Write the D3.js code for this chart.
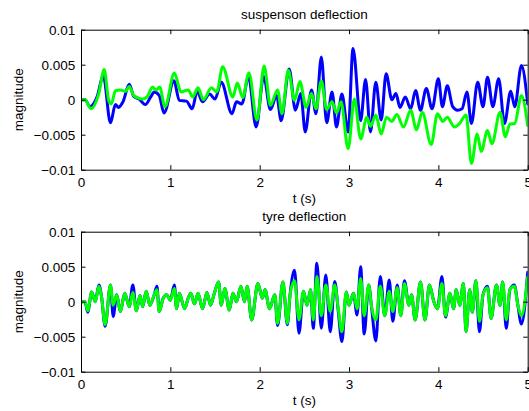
<!DOCTYPE html>
<html>
<head>
<meta charset="utf-8">
<script src="https://cdn.jsdelivr.net/npm/d3@7"></script>
<style>
  body { margin: 0; background: #fff; }
  svg text { font-family: "Liberation Sans", Arial, Helvetica, sans-serif; }
</style>
</head>
<body>
<svg id="chart" width="529" height="411"></svg>
<script>
// ---- axis ticks ----
const xTicks = [0, 1, 2, 3, 4, 5];
const yTicks = [-0.01, -0.005, 0, 0.005, 0.01];
const yTickLabels = ["\u22120.01", "\u22120.005", "0", "0.005", "0.01"];
const panelTitles = ["suspenson deflection", "tyre deflection"];
const xLabel = "t (s)";
const yLabel = "magnitude";

// ---- suspension deflection (values in units of 1e-3) ----
const suspBlueT = [0, 0.045, 0.1, 0.18, 0.25, 0.33, 0.385, 0.42, 0.47, 0.54, 0.59, 0.65, 0.72, 0.78, 0.82, 0.875, 0.93,
  1.04, 1.1, 1.18, 1.245, 1.3, 1.36, 1.44, 1.5, 1.57, 1.69, 1.74, 1.8, 1.875, 1.96, 2.045, 2.12, 2.19, 2.24, 2.33, 2.4,
  2.46, 2.51, 2.58, 2.63, 2.69, 2.75, 2.81, 2.86, 2.92, 2.99, 3.045, 3.13, 3.185, 3.24, 3.3, 3.36, 3.415, 3.48, 3.525,
  3.57, 3.63, 3.69, 3.745, 3.8, 3.865, 3.93, 4.0, 4.045, 4.1, 4.16, 4.215, 4.265, 4.32, 4.37, 4.44, 4.5, 4.55, 4.61,
  4.675, 4.74, 4.81, 4.855, 4.93, 5.0];
const suspBlueV = [0, 0, -1.0, 0.4, 3.4, -3.3, -0.7, -1.1, -0.3, 2.2, 0.5, 0.1, -0.7, 0.4, 1.1, 0.6, -1.9,
  2.7, -0.1, -0.2, -1.3, 1.2, -0.3, 0.8, 0.1, 2.5, -2.0, -0.3, -0.6, 3.3, -3.9, 3.3, -1.4, 0.6, -3.0, 4.4, -1.5,
  0.9, -4.6, 1.4, -2.0, 6.1, -3.3, 1.1, -3.9, 0.8, -4.6, 7.3, -3.0, 2.9, -4.6, 2.5, -2.9, 3.7, 0, 0.9,
  -1.1, 0.4, -1.3, 1.3, -1.5, 1.6, -1.3, 3.0, -1.0, 2.0, -1.0, -1.5, -1.3, 1.1, -3.4, 2.5, -1.0, 3.2, -1.0,
  3.0, -3.4, 1.2, -1.0, 4.9, -0.6];

const suspGreenT = [0, 0.045, 0.11, 0.2, 0.26, 0.31, 0.34, 0.385, 0.44, 0.5, 0.54, 0.59, 0.69, 0.74, 0.8, 0.84, 0.88, 0.94,
  1.045, 1.12, 1.2, 1.25, 1.31, 1.37, 1.46, 1.52, 1.585, 1.7, 1.75, 1.81, 1.88, 1.97, 2.05, 2.12, 2.2, 2.25, 2.32, 2.39,
  2.45, 2.52, 2.58, 2.63, 2.69, 2.75, 2.81, 2.86, 2.91, 2.99, 3.06, 3.13, 3.2, 3.24, 3.3, 3.36, 3.42, 3.48, 3.535, 3.61,
  3.69, 3.755, 3.82, 3.92, 3.99, 4.05, 4.1, 4.18, 4.23, 4.31, 4.37, 4.435, 4.48, 4.55, 4.6, 4.69, 4.75, 4.8, 4.855,
  4.93, 5.0];
const suspGreenV = [0, 0, -1.3, 0.9, 4.3, -0.1, -0.6, 1.3, 1.4, 1.2, 1.9, 0.6, 0.1, 0.4, 1.8, 1.4, 1.8, -1.0,
  3.8, 1.1, 1.4, 0.4, 1.7, 0, 1.7, 1.1, 4.7, 0.4, 2.4, 0.3, 3.8, -2.9, 4.8, -0.8, 1.4, -2.0, 4.2, -0.1,
  2.6, -1.1, 0.9, -1.3, 2.7, -1.4, -0.3, -1.9, -0.3, -7.0, 0.1, -5.6, -2.5, -3.8, -2.2, -4.9, -2.5, -3.1, -2.1, -3.9,
  -1.5, -4.3, -1.8, -6.4, -2.0, -3.1, -2.5, -3.9, -3.5, -2.2, -9.1, -4.9, -7.4, -4.4, -6.3, -1.8, -5.3, -3.5, -3.4,
  0.6, -3.7];

// ---- tyre deflection (values in units of 1e-3) ----
const tyreT = [0, 0.045, 0.075, 0.12, 0.16, 0.2, 0.23, 0.27, 0.33, 0.36, 0.4, 0.44, 0.49, 0.54, 0.58, 0.62, 0.66, 0.69,
  0.73, 0.77, 0.82, 0.85, 0.875, 0.92, 0.96, 1.0, 1.045, 1.07, 1.1, 1.16, 1.2, 1.23, 1.27, 1.31, 1.36, 1.41, 1.45, 1.49,
  1.54, 1.57, 1.61, 1.66, 1.7, 1.74, 1.79, 1.83, 1.86, 1.91, 1.98, 2.03, 2.06, 2.11, 2.17, 2.2, 2.26, 2.31, 2.34, 2.39,
  2.44, 2.49, 2.53, 2.57, 2.6, 2.64, 2.69, 2.74, 2.79, 2.84, 2.88, 2.92, 2.97, 3.0, 3.05, 3.09, 3.13, 3.17, 3.22, 3.25,
  3.3, 3.35, 3.4, 3.45, 3.49, 3.54, 3.58, 3.62, 3.67, 3.7, 3.74, 3.8, 3.85, 3.9, 3.95, 3.99, 4.04, 4.08, 4.13, 4.17,
  4.2, 4.24, 4.28, 4.31, 4.35, 4.38, 4.42, 4.46, 4.5, 4.55, 4.59, 4.65, 4.69, 4.72, 4.76, 4.8, 4.85, 4.89, 4.93, 5.0];
const tyreBlueV = [0, 0, -1.5, 1.4, 0, 2.4, 0.7, -3.5, 2.4, -2.1, 1.0, -1.4, 1.2, -0.7, 2.4, -1.3, 0.9, -0.7,
  1.5, -0.5, 1.0, 2.2, -1.4, 0.5, 1.0, 0.2, 2.4, -1.0, 1.2, -1.0, 0.5, 1.2, -0.3, 1.2, -1.0, 1.3, -0.5, 1.1,
  2.8, -0.5, 1.9, -1.2, 1.2, 0, 2.2, 0, 2.2, -2.6, 2.6, 0.5, 1.7, -1.0, 1.0, -3.4, 2.8, -3.3, 1.0, 4.5,
  -4.5, 1.5, -0.5, 1.7, -3.8, 5.5, -3.8, 3.8, -4.3, 2.9, -1.4, -5.7, 1.4, -0.5, 1.2, -1.9, 5.0, -4.6, 2.4, -0.5,
  -5.6, 3.6, -2.0, 3.1, -2.8, 2.4, -2.0, 3.0, -0.5, 1.0, -2.6, 2.8, -2.6, 2.4, 0, -1.0, 3.6, -2.2, 1.2, -1.0,
  1.7, -0.5, 2.6, -4.3, 1.7, -1.5, 3.0, -4.3, 1.0, 2.2, -2.4, 2.4, -0.5, 2.8, -3.8, 1.7, 2.4, -0.5, -3.2, 4.2];
const tyreGreenV = [0, 0, -1.3, 1.4, 0, 2.2, 0.7, -3.3, 2.4, -0.5, 1.0, -1.4, 1.2, -0.7, 1.3, -1.3, 0.9, -0.7,
  1.5, -0.5, 1.0, 1.7, -1.4, 0.5, 1.0, 0.2, 1.9, -1.0, 1.2, -1.0, 0.5, 1.2, -0.3, 1.2, -1.0, 1.3, -0.5, 1.1,
  2.8, -0.5, 1.9, -1.2, 1.2, 0, 2.2, 0, 2.2, -2.6, 2.6, 0.5, 1.7, -1.0, 1.0, -3.1, 2.8, -3.1, 1.0, 3.0,
  -2.6, 1.5, -0.5, 1.7, -2.6, 3.6, -2.0, 2.4, -1.4, 2.4, -1.0, -4.3, 1.4, -0.5, 1.2, -1.0, 3.3, -2.0, 2.4, -0.5,
  -2.6, 2.2, -2.0, 1.5, -1.4, 2.0, -2.0, 2.6, -0.5, 1.0, -2.6, 2.8, -2.6, 2.4, 0, -1.0, 2.6, -2.0, 1.2, -1.0,
  1.7, -0.5, 2.6, -4.3, 1.7, -1.5, 3.0, -2.8, 1.0, 2.0, -2.4, 2.4, -0.5, 2.8, -2.6, 1.7, 2.2, -0.5, -2.0, 3.5];

const UNIT = 1e-3;
const BLUE = "#0000ff", GREEN = "#00ff00";

const panels = [
  { title: panelTitles[0], top: 29.7, bottom: 169.7,
    series: [ { t: suspBlueT, v: suspBlueV, color: BLUE }, { t: suspGreenT, v: suspGreenV, color: GREEN } ] },
  { title: panelTitles[1], top: 231.7, bottom: 371.7,
    series: [ { t: tyreT, v: tyreBlueV, color: BLUE }, { t: tyreT, v: tyreGreenV, color: GREEN } ] }
];

const svg = d3.select("#chart");
const left = 81, right = 527.7;
const FONT = 13.5;

panels.forEach((p, i) => {
  const x = d3.scaleLinear().domain([0, 5]).range([left, right]);
  const y = d3.scaleLinear().domain([-0.01, 0.01]).range([p.bottom, p.top]);
  const g = svg.append("g");

  const clipId = "clip" + i;
  svg.append("clipPath").attr("id", clipId)
    .append("rect").attr("x", left).attr("y", p.top)
    .attr("width", right - left).attr("height", p.bottom - p.top);

  const line = d3.line()
    .x(d => x(d[0]))
    .y(d => y(d[1] * UNIT))
    .curve(d3.curveMonotoneX);

  const plot = g.append("g").attr("clip-path", `url(#${clipId})`);
  p.series.forEach(s => {
    const pts = s.t.map((t, k) => [t, s.v[k]]);
    plot.append("path").datum(pts)
      .attr("d", line)
      .attr("fill", "none")
      .attr("stroke", s.color)
      .attr("stroke-width", 3)
      .attr("stroke-linejoin", "round")
      .attr("stroke-linecap", "round");
  });

  // axes: ticks point inward on all four sides
  const fmtY = d => yTickLabels[yTicks.indexOf(d)];
  const axB = g.append("g").attr("transform", `translate(0,${p.bottom})`)
    .call(d3.axisBottom(x).tickValues(xTicks).tickFormat(d3.format("d"))
      .tickSizeInner(-4.5).tickSizeOuter(0).tickPadding(7.3));
  const axT = g.append("g").attr("transform", `translate(0,${p.top})`)
    .call(d3.axisTop(x).tickValues(xTicks).tickFormat("")
      .tickSizeInner(-4.5).tickSizeOuter(0));
  const axL = g.append("g").attr("transform", `translate(${left},0)`)
    .call(d3.axisLeft(y).tickValues(yTicks).tickFormat(fmtY)
      .tickSizeInner(-4.5).tickSizeOuter(0).tickPadding(5.7));
  const axR = g.append("g").attr("transform", `translate(${right},0)`)
    .call(d3.axisRight(y).tickValues(yTicks).tickFormat("")
      .tickSizeInner(-4.5).tickSizeOuter(0));
  [axB, axT, axL, axR].forEach(a => {
    a.selectAll("text").attr("font-size", FONT).attr("fill", "#000")
      .style("font-family", "'Liberation Sans', Arial, sans-serif");
    a.selectAll("line, path").attr("stroke", "#000").attr("stroke-width", 1);
  });

  g.append("text")
    .attr("x", (left + right) / 2).attr("y", p.top - 10.5)
    .attr("text-anchor", "middle").attr("font-size", FONT)
    .text(p.title);

  g.append("text")
    .attr("x", (left + right) / 2).attr("y", p.bottom + 33.5)
    .attr("text-anchor", "middle").attr("font-size", FONT)
    .text(xLabel);

  g.append("text")
    .attr("transform", `translate(22.5,${(p.top + p.bottom) / 2}) rotate(-90)`)
    .attr("text-anchor", "middle").attr("font-size", FONT)
    .text(yLabel);
});
</script>
</body>
</html>
